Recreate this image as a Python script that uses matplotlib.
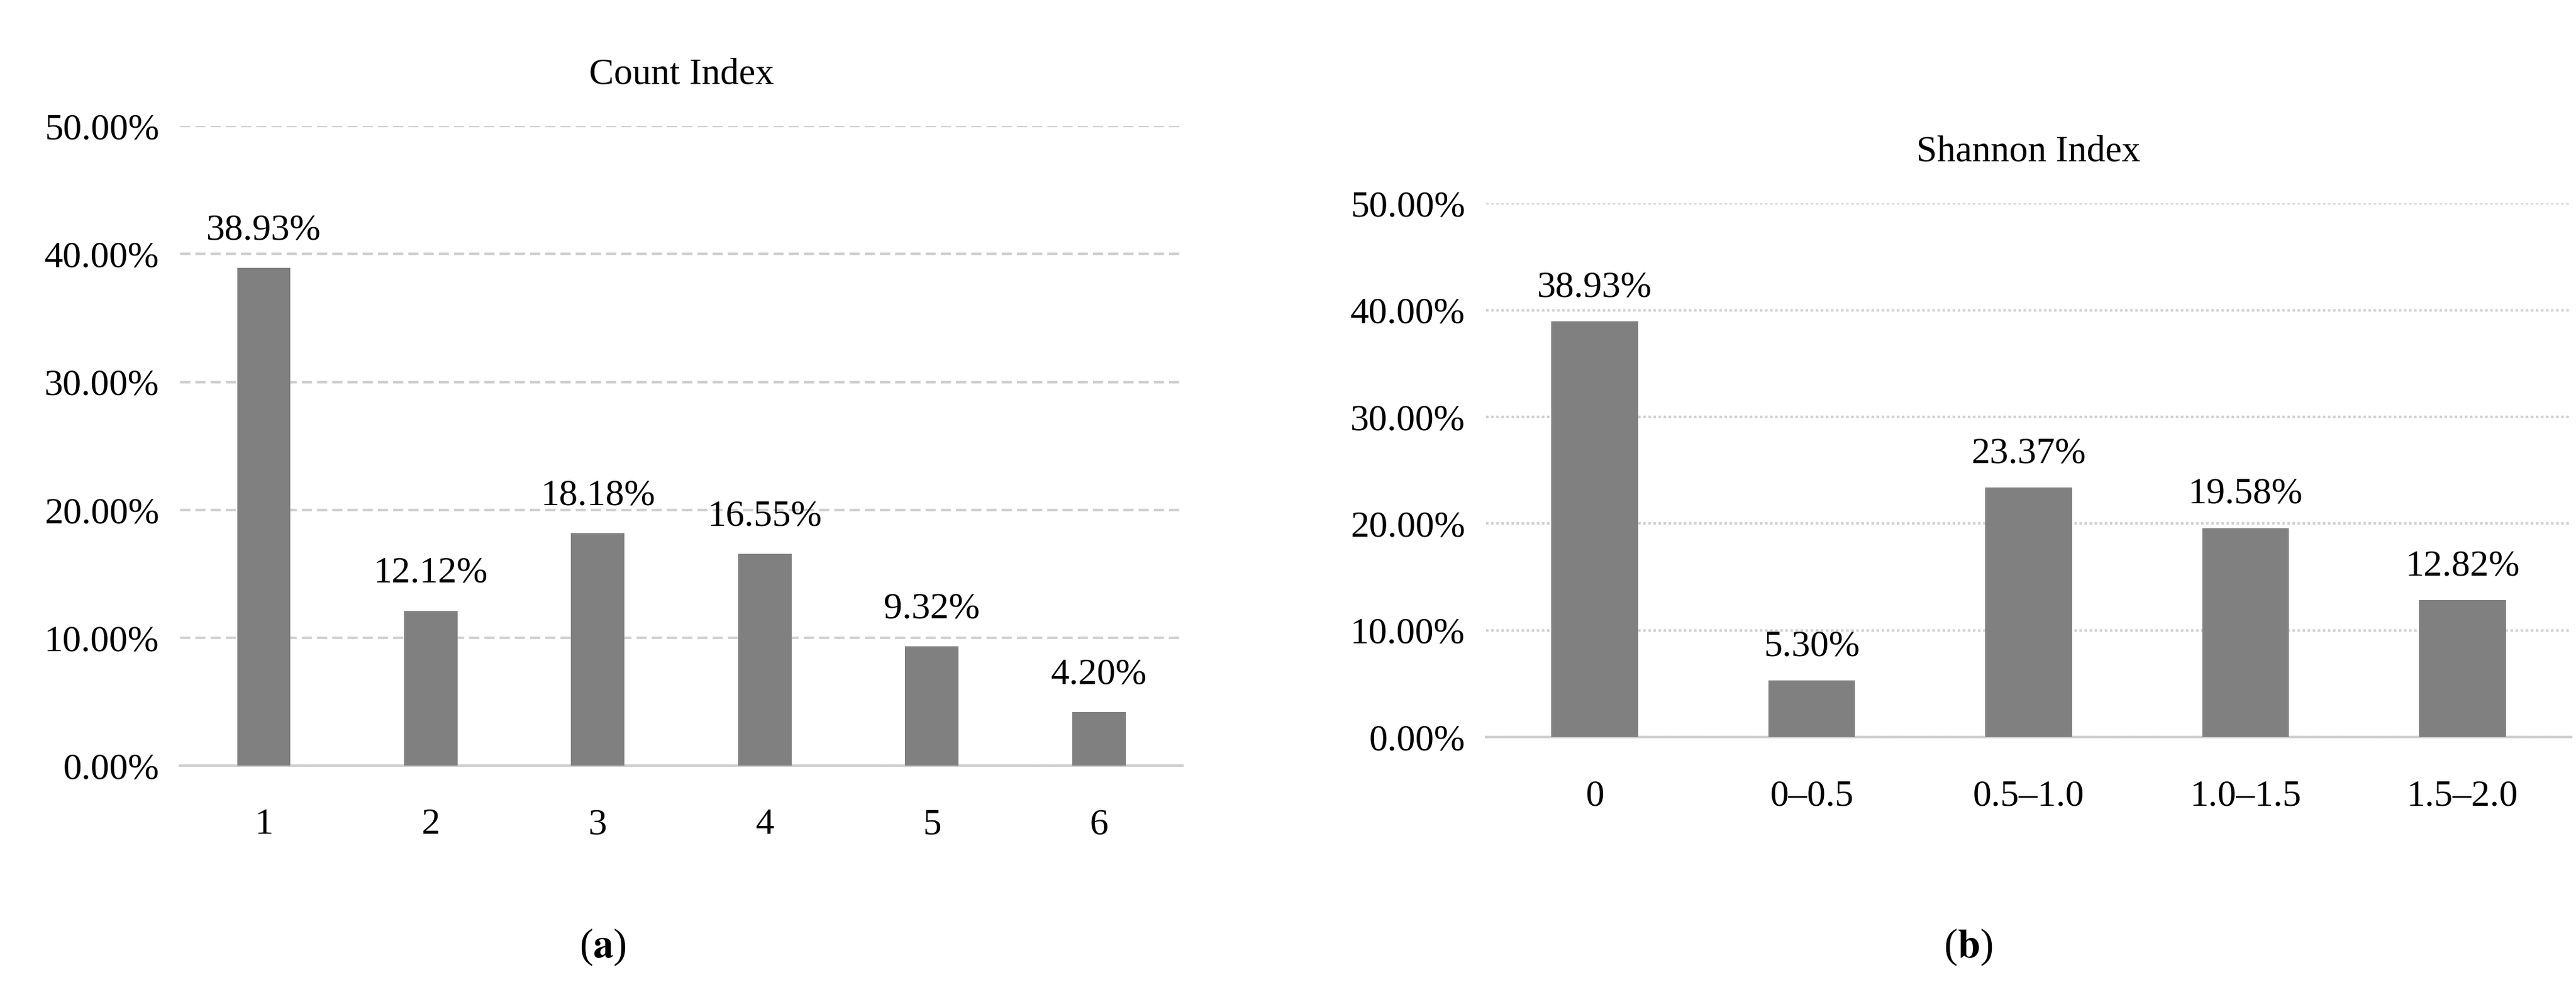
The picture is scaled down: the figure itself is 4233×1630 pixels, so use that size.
import matplotlib
matplotlib.use("Agg")
import matplotlib.pyplot as plt
from matplotlib.ticker import FuncFormatter

count_cats = ["1", "2", "3", "4", "5", "6"]
count_vals = [38.93, 12.12, 18.18, 16.55, 9.32, 4.20]
shannon_cats = ["0", "0–0.5", "0.5–1.0", "1.0–1.5", "1.5–2.0"]
shannon_vals = [38.93, 5.30, 23.37, 19.58, 12.82]
yticks = [0, 10, 20, 30, 40, 50]

plt.rcParams['font.family'] = ['Liberation Serif', 'DejaVu Serif']
plt.rcParams['mathtext.fontset'] = 'stix'
fs = 44
fig = plt.figure(figsize=(42.33, 16.30), dpi=100)

def panel(rect, cats, vals, title, ls, width):
    ax = fig.add_axes(rect)
    x = range(len(cats))
    ax.bar(x, vals, width=width, color="#808080", zorder=3)
    for xi, v in zip(x, vals):
        ax.text(xi, v + 1.6, f"{v:.2f}%", ha="center", va="bottom", fontsize=fs)
    ax.set_ylim(0, 50)
    ax.set_xlim(-0.5, len(cats) - 0.5)
    ax.set_yticks(yticks)
    ax.yaxis.set_major_formatter(FuncFormatter(lambda v, p: f"{v:.2f}%"))
    ax.set_xticks(list(x))
    ax.set_xticklabels(cats)
    ax.tick_params(axis="y", length=0, labelsize=fs, pad=25)
    ax.tick_params(axis="x", length=0, labelsize=fs, pad=50)
    ax.grid(axis="y", color="#d0d0d0", linestyle=ls, linewidth=3, zorder=0)
    for s in ["top", "right", "left"]:
        ax.spines[s].set_visible(False)
    ax.spines["bottom"].set_color("#d0d0d0")
    ax.spines["bottom"].set_linewidth(3)
    ax.set_title(title, fontsize=fs, pad=50)
    return ax

panel([0.070, 0.228, 0.389, 0.645], count_cats, count_vals, "Count Index", (0, (4, 2)), 0.32)
fig.text(0.234, 0.035, r"($\mathbf{a}$)", ha="center", fontsize=fs + 4)
panel([0.577, 0.257, 0.421, 0.538], shannon_cats, shannon_vals, "Shannon Index", (0, (1, 1)), 0.4)
fig.text(0.764, 0.035, r"($\mathbf{b}$)", ha="center", fontsize=fs + 4)
fig.savefig("out.png", dpi=100)
